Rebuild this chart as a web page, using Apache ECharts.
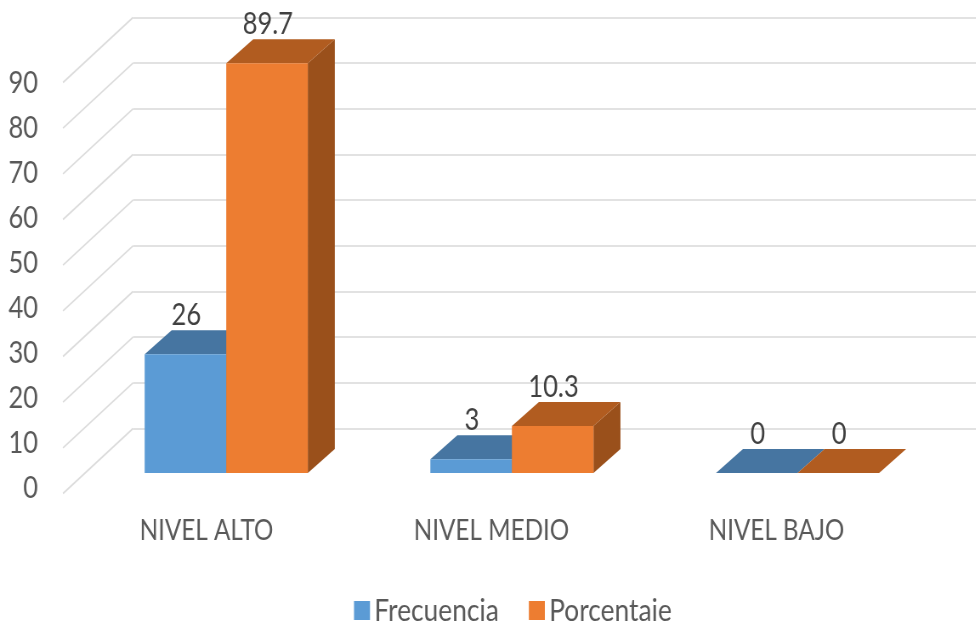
<!DOCTYPE html>
<html><head><meta charset="utf-8">
<style>html,body{margin:0;padding:0;background:#fff;overflow:hidden}
#c{width:1148px;height:621px;transform-origin:0 0;transform:scaleX(0.85);filter:blur(0.5px)}</style>
<script src="https://cdn.jsdelivr.net/npm/echarts@6/dist/echarts.min.js"></script>
</head><body><div id="c"></div>
<script>
const categories = ['NIVEL ALTO', 'NIVEL MEDIO', 'NIVEL BAJO'];
const frecuencia = [26, 3, 0];
const porcentaje = [89.7, 10.3, 0];
const wallTicks = [0, 10, 20, 30, 40, 50, 60, 70, 80, 90];

const SX = 0.85;               // the reference is squeezed horizontally
const px = x => x / SX;
const FONT = 'Lato,"Liberation Sans",sans-serif';
const TEXT = '#595959', FS = 30;
const DX = px(27), DY = -24, BAR = 0.2855;

function bar3d(side, front, top, dark) {
  return function (params, api) {
    const i = api.value(0), v = api.value(1);
    const c = api.coord([i, v]), b = api.coord([i, 0]);
    const w = api.size([1, 0])[0] * BAR;
    const x0 = side < 0 ? c[0] - w : c[0], x1 = x0 + w;
    const yT = c[1], yB = b[1];
    const poly = (pts, fill) => ({ type: 'polygon', shape: { points: pts }, style: { fill: fill } });
    return {
      type: 'group',
      children: [
        { type: 'text', style: { text: String(v), x: (x0 + x1) / 2 + 1, y: yT + DY - 15, align: 'center', verticalAlign: 'middle', fontSize: FS, fontFamily: FONT, fill: '#404040' } },
        poly([[x1, yB], [x1 + DX, yB + DY], [x1 + DX, yT + DY], [x1, yT]], dark),
        poly([[x0, yT], [x1, yT], [x1 + DX, yT + DY], [x0 + DX, yT + DY]], top),
        poly([[x0, yT], [x1, yT], [x1, yB], [x0, yB]], front)
      ]
    };
  };
}

const chart = echarts.init(document.getElementById('c'), null, { renderer: 'canvas' });
chart.setOption({
  animation: false,
  backgroundColor: '#fff',
  grid: [
    { left: px(64), width: px(855), top: 83, height: 405 },
    { left: px(133), right: 0, top: 17.5, height: 411 },
    { left: px(83.4), width: px(857), top: 62, height: 411 }
  ],
  xAxis: [
    { gridIndex: 0, type: 'category', data: categories, axisLine: { show: false }, axisTick: { show: false },
      axisLabel: { margin: 28, fontSize: 28.5, fontFamily: FONT, color: TEXT } },
    { gridIndex: 1, type: 'value', min: 0, max: 1, show: false },
    { gridIndex: 2, type: 'category', data: categories, show: false }
  ],
  yAxis: [
    { gridIndex: 0, type: 'value', min: 0, max: 90, interval: 10, axisLine: { show: false }, axisTick: { show: false }, splitLine: { show: false },
      axisLabel: { margin: px(26), fontSize: FS, fontFamily: FONT, color: TEXT } },
    { gridIndex: 1, type: 'value', min: 0, max: 90, interval: 10, axisLine: { show: false }, axisTick: { show: false }, axisLabel: { show: false },
      splitLine: { show: true, lineStyle: { color: '#e2e2e2', width: 2 } } },
    { gridIndex: 2, type: 'value', min: 0, max: 90, show: false }
  ],
  legend: {
    left: px(354), top: 595, padding: 0, itemWidth: px(16), itemHeight: 19, itemGap: px(30), icon: 'rect',
    data: ['Frecuencia', 'Porcentaje'],
    textStyle: { fontSize: 31, fontFamily: FONT, color: TEXT }
  },
  series: [
    { type: 'custom', name: 'walls', xAxisIndex: 1, yAxisIndex: 1, silent: true, clip: false,
      data: wallTicks.map(v => [0, v]),
      renderItem: (p, api) => {
        const c = api.coord([0, api.value(1)]);
        return { type: 'line', shape: { x1: c[0], y1: c[1], x2: c[0] - px(70), y2: c[1] + 65 },
          style: { stroke: '#dcdcdc', lineWidth: 1.6 } };
      } },
    { type: 'custom', name: 'Frecuencia', xAxisIndex: 2, yAxisIndex: 2, clip: false,
      itemStyle: { color: '#5B9BD5' },
      data: frecuencia.map((v, i) => [i, v]), encode: { x: 0, y: 1 },
      renderItem: bar3d(-1, '#5B9BD5', '#4675A1', '#3F6C95') },
    { type: 'custom', name: 'Porcentaje', xAxisIndex: 2, yAxisIndex: 2, clip: false,
      itemStyle: { color: '#ED7D31' },
      data: porcentaje.map((v, i) => [i, v]), encode: { x: 0, y: 1 },
      renderItem: bar3d(1, '#ED7D31', '#B15C20', '#9A501B') }
  ]
});
</script></body></html>
